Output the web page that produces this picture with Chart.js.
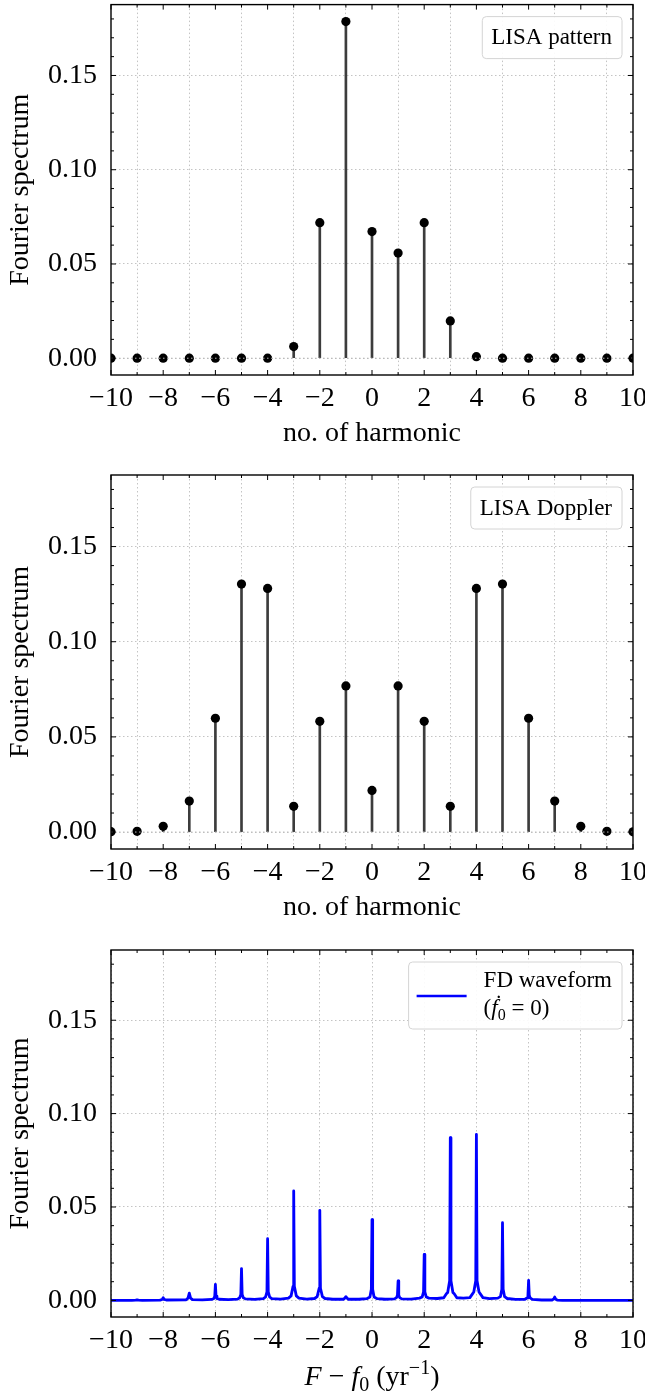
<!DOCTYPE html>
<html>
<head>
<meta charset="utf-8">
<script src="https://cdn.jsdelivr.net/npm/chart.js@4"></script>
<style>
  body { margin: 0; background: #fff; }
  #wrap { position: relative; width: 645px; height: 1395px; }
  canvas { position: absolute; left: 0; }
</style>
</head>
<body>
<div id="wrap">
  <canvas id="c1" width="645" height="470" style="top:0px"></canvas>
  <canvas id="c2" width="645" height="470" style="top:470px"></canvas>
  <canvas id="c3" width="645" height="455" style="top:940px"></canvas>
</div>
<script>
// harmonic numbers and the two stem spectra
const harmonics = [-10, -9, -8, -7, -6, -5, -4, -3, -2, -1, 0, 1, 2, 3, 4, 5, 6, 7, 8, 9, 10];
const patternAmp = [0, 0, 0, 0, 0, 0, 0, 0.0062, 0.0719, 0.1786, 0.0672, 0.0558, 0.0719, 0.0198, 0.0008, 0, 0, 0, 0, 0, 0];
const dopplerAmp = [0.0002, 0.0004, 0.003, 0.0163, 0.0598, 0.1303, 0.128, 0.0135, 0.0582, 0.0768, 0.0219,
                    0.0768, 0.0582, 0.0135, 0.128, 0.1303, 0.0598, 0.0163, 0.003, 0.0004, 0.0001];

// FD waveform spectrum
const freq = [
  -10, -9.2, -9.05, -9, -8.95, -8.8,
  -8.12, -8.04, -8, -7.96, -7.88,
  -7.12, -7.05, -7, -6.95, -6.88,
  -6.5,
  -6.14, -6.06, -6.025, -6, -5.975, -5.94, -5.86,
  -5.5,
  -5.15, -5.07, -5.025, -5, -4.975, -4.93, -4.85,
  -4.5,
  -4.16, -4.08, -4.025, -4, -3.975, -3.92, -3.84,
  -3.5,
  -3.2, -3.1, -3.025, -3, -2.975, -2.9, -2.8,
  -2.5,
  -2.2, -2.1, -2.025, -2, -1.975, -1.9, -1.8,
  -1.5,
  -1.1, -1.04, -1, -0.96, -0.9,
  -0.5,
  -0.2, -0.08, -0.025, 0, 0.025, 0.08, 0.2,
  0.5,
  0.86, 0.94, 0.975, 1, 1.025, 1.06, 1.14,
  1.5,
  1.82, 1.92, 1.975, 2, 2.025, 2.08, 2.18,
  2.5,
  2.75, 2.85, 2.9, 2.975, 3, 3.025, 3.1, 3.15, 3.25,
  3.5,
  3.75, 3.85, 3.9, 3.975, 4, 4.025, 4.1, 4.15, 4.25,
  4.5,
  4.82, 4.92, 4.975, 5, 5.025, 5.08, 5.18,
  5.5,
  5.86, 5.94, 5.975, 6, 6.025, 6.06, 6.14,
  6.5,
  6.9, 6.96, 7, 7.04, 7.1,
  7.3, 10
];
const spectrum = [
  0, 0, 0.0001, 0.0003, 0.0001, 0,
  0.0001, 0.0005, 0.0014, 0.0005, 0.0002,
  0.0003, 0.0012, 0.0039, 0.0012, 0.0004,
  0.0003,
  0.0005, 0.0010, 0.0022, 0.0086, 0.0022, 0.0010, 0.0006,
  0.0004,
  0.0007, 0.0014, 0.0032, 0.017, 0.0032, 0.0014, 0.0008,
  0.0005,
  0.0009, 0.0018, 0.0045, 0.033, 0.0045, 0.0018, 0.0009,
  0.0007,
  0.0012, 0.0024, 0.0075, 0.0586, 0.0075, 0.0024, 0.0012,
  0.0007,
  0.001, 0.002, 0.0065, 0.0482, 0.0065, 0.002, 0.001,
  0.0006,
  0.0006, 0.0012, 0.002, 0.0012, 0.0006,
  0.0006,
  0.0009, 0.0018, 0.006, 0.0432, 0.006, 0.0018, 0.0009,
  0.0006,
  0.0008, 0.0015, 0.0028, 0.0104, 0.0028, 0.0015, 0.0008,
  0.0007,
  0.0012, 0.0018, 0.0045, 0.0246, 0.0045, 0.0018, 0.0012,
  0.001,
  0.0014, 0.0035, 0.0042, 0.0105, 0.0871, 0.0105, 0.0042, 0.0035, 0.0014,
  0.0012,
  0.0015, 0.0035, 0.0045, 0.0105, 0.0889, 0.0105, 0.0045, 0.0035, 0.0015,
  0.0009,
  0.0012, 0.002, 0.006, 0.0416, 0.006, 0.002, 0.001,
  0.0005,
  0.0006, 0.0013, 0.0028, 0.0107, 0.0028, 0.0013, 0.0005,
  0.0002,
  0.0002, 0.0007, 0.0018, 0.0007, 0.0001,
  0, 0
];

const xTickValues = [-10, -8, -6, -4, -2, 0, 2, 4, 6, 8, 10];
const yTickValues = [0, 0.05, 0.10, 0.15];
const yMinorValues = [0, 0.01, 0.02, 0.03, 0.04, 0.05, 0.06, 0.07, 0.08, 0.09,
                      0.10, 0.11, 0.12, 0.13, 0.14, 0.15, 0.16, 0.17, 0.18];

const SERIF = "'Liberation Serif', 'DejaVu Serif', serif";
Chart.defaults.font.family = SERIF;
Chart.defaults.color = '#000';

// draws a run of text pieces (italic / sub / sup) starting at x, baseline y
function richText(ctx, parts, x, y, size, align) {
  const fontOf = p => (p.i ? 'italic ' : '') + Math.round((p.sub || p.sup) ? size * 0.7 : size) + 'px ' + SERIF;
  let w = 0;
  parts.forEach(p => { ctx.font = fontOf(p); w += ctx.measureText(p.t).width; });
  let cx = align === 'center' ? x - w / 2 : x;
  ctx.textBaseline = 'alphabetic';
  ctx.textAlign = 'left';
  parts.forEach(p => {
    ctx.font = fontOf(p);
    const dy = p.sub ? size * 0.22 : p.sup ? -size * 0.38 : 0;
    ctx.fillText(p.t, cx, y + dy);
    cx += ctx.measureText(p.t).width;
  });
  return w;
}

function roundBox(ctx, x, y, w, h) {
  ctx.save();
  ctx.beginPath();
  ctx.roundRect(x, y, w, h, 4);
  ctx.fillStyle = 'rgba(255,255,255,0.92)';
  ctx.fill();
  ctx.strokeStyle = '#d4d4d4';
  ctx.lineWidth = 1;
  ctx.stroke();
  ctx.restore();
}

const framePlugin = {
  id: 'frame',
  afterDatasetsDraw(chart) {
    // light dotted stem baseline over the markers
    if (!chart.options.plugins.frame.baseline) return;
    const { ctx, chartArea: a, scales: { y } } = chart;
    const py = y.getPixelForValue(0);
    ctx.save();
    ctx.strokeStyle = '#b8b8b8';
    ctx.lineWidth = 1;
    ctx.setLineDash([1.5, 2.5]);
    ctx.beginPath();
    ctx.moveTo(a.left, py);
    ctx.lineTo(a.right, py);
    ctx.stroke();
    ctx.restore();
  },
  afterDraw(chart) {
    const { ctx, chartArea: a, scales: { x, y } } = chart;
    const opts = chart.options.plugins.frame;
    ctx.save();
    ctx.strokeStyle = '#000';
    ctx.lineWidth = 1;
    ctx.beginPath();
    harmonics.forEach(v => {
      const px = x.getPixelForValue(v);
      const len = v % 2 === 0 ? 5 : 3;
      ctx.moveTo(px, a.bottom); ctx.lineTo(px, a.bottom - len);
      ctx.moveTo(px, a.top); ctx.lineTo(px, a.top + len);
    });
    yMinorValues.forEach(v => {
      const py = y.getPixelForValue(v);
      const len = Math.round(v * 100) % 5 === 0 ? 5 : 3;
      ctx.moveTo(a.left, py); ctx.lineTo(a.left + len, py);
      ctx.moveTo(a.right, py); ctx.lineTo(a.right - len, py);
    });
    ctx.stroke();
    ctx.lineWidth = 1.4;
    ctx.strokeRect(a.left, a.top, a.right - a.left, a.bottom - a.top);

    // legend
    ctx.fillStyle = '#000';
    const lg = opts.legend;
    const top = a.top + 12;
    const textRight = a.right - 21;
    if (lg.lines.length === 1) {
      ctx.font = '23px ' + SERIF;
      const w = ctx.measureText(lg.lines[0][0].t).width;
      const left = textRight - w - 9;
      roundBox(ctx, left, top, textRight + 10 - left, 42);
      ctx.fillStyle = '#000';
      richText(ctx, lg.lines[0], left + 9, top + 27.5, 23);
    } else {
      ctx.font = '23px ' + SERIF;
      const w = ctx.measureText(lg.lines[0][0].t).width;
      const left = textRight - w - 75;
      roundBox(ctx, left, top, textRight + 10 - left, 67);
      ctx.strokeStyle = lg.color;
      ctx.lineWidth = 2.6;
      ctx.beginPath();
      ctx.moveTo(left + 8, top + 34);
      ctx.lineTo(left + 58, top + 34);
      ctx.stroke();
      ctx.fillStyle = '#000';
      richText(ctx, lg.lines[0], left + 75, top + 25, 23);
      richText(ctx, lg.lines[1], left + 75, top + 53, 23);
    }

    if (opts.xlabel) {
      richText(ctx, opts.xlabel, (a.left + a.right) / 2, a.bottom + 68, 28, 'center');
    }
    ctx.restore();
  }
};

function makeScales(xTitle, xHeight) {
  return {
    x: {
      type: 'linear',
      min: -10,
      max: 10,
      offset: false,
      afterBuildTicks: s => { s.ticks = xTickValues.map(v => ({ value: v })); },
      afterFit: s => { s.height = xHeight; s.paddingLeft = 0; s.paddingRight = 0; },
      ticks: {
        font: { size: 28 },
        padding: 7,
        maxRotation: 0,
        autoSkip: false,
        callback: v => (v < 0 ? '\u2212' + Math.abs(v) : String(v))
      },
      grid: { color: '#bdbdbd', lineWidth: 0.9, drawTicks: false },
      border: { display: false, dash: [1.5, 2.5] },
      title: { display: !!xTitle, text: xTitle, font: { size: 28 }, padding: 0 }
    },
    y: {
      min: -0.0089,
      max: 0.1876,
      afterBuildTicks: s => { s.ticks = yTickValues.map(v => ({ value: v })); },
      afterFit: s => { s.width = 111; s.paddingTop = 0; s.paddingBottom = 0; },
      ticks: {
        font: { size: 28 },
        padding: 14,
        callback: v => v.toFixed(2)
      },
      grid: { color: '#bdbdbd', lineWidth: 0.9, drawTicks: false },
      border: { display: false, dash: [1.5, 2.5] },
      title: { display: true, text: 'Fourier spectrum', font: { size: 28 }, padding: { top: 4, bottom: 0 } }
    }
  };
}

function stemChart(id, amps, legendText, padTop, padBottom, xHeight) {
  return new Chart(document.getElementById(id), {
    type: 'scatter',
    data: {
      datasets: [
        {
          type: 'bar',
          data: harmonics.map((h, i) => ({ x: h, y: amps[i] })),
          backgroundColor: '#3c3c3c',
          barThickness: 2,
          order: 2
        },
        {
          type: 'scatter',
          data: harmonics.map((h, i) => ({ x: h, y: amps[i] })),
          backgroundColor: '#000',
          borderWidth: 0,
          pointRadius: 4.6,
          order: 1
        }
      ]
    },
    options: {
      responsive: false,
      animation: false,
      devicePixelRatio: 1,
      layout: { padding: { top: padTop, right: 12, bottom: padBottom, left: 0 } },
      scales: makeScales('no. of harmonic', xHeight),
      plugins: {
        legend: { display: false },
        tooltip: { enabled: false },
        frame: { baseline: true, legend: { lines: [[{ t: legendText }]] } }
      }
    },
    plugins: [framePlugin]
  });
}

stemChart('c1', patternAmp, 'LISA pattern', 2, 20, 75);
stemChart('c2', dopplerAmp, 'LISA Doppler', 5, 16, 75);

new Chart(document.getElementById('c3'), {
  type: 'line',
  data: {
    datasets: [{
      data: freq.map((f, i) => ({ x: f, y: spectrum[i] })),
      borderColor: '#0000ff',
      borderWidth: 2.8,
      borderJoinStyle: 'round',
      borderCapStyle: 'round',
      pointRadius: 0,
      tension: 0,
      fill: false
    }]
  },
  options: {
    responsive: false,
    animation: false,
    devicePixelRatio: 1,
    layout: { padding: { top: 10, right: 12, bottom: 38, left: 0 } },
    scales: makeScales('', 40),
    plugins: {
      legend: { display: false },
      tooltip: { enabled: false },
      frame: {
        baseline: false,
        legend: {
          color: '#0000ff',
          lines: [
            [{ t: 'FD waveform' }],
            [{ t: '(' }, { t: '\u1E1F', i: true }, { t: '0', sub: true }, { t: ' = 0)' }]
          ]
        },
        xlabel: [{ t: 'F', i: true }, { t: ' \u2212 ' }, { t: 'f', i: true }, { t: '0', sub: true },
                 { t: ' (yr' }, { t: '\u22121', sup: true }, { t: ')' }]
      }
    }
  },
  plugins: [framePlugin]
});
</script>
</body>
</html>
